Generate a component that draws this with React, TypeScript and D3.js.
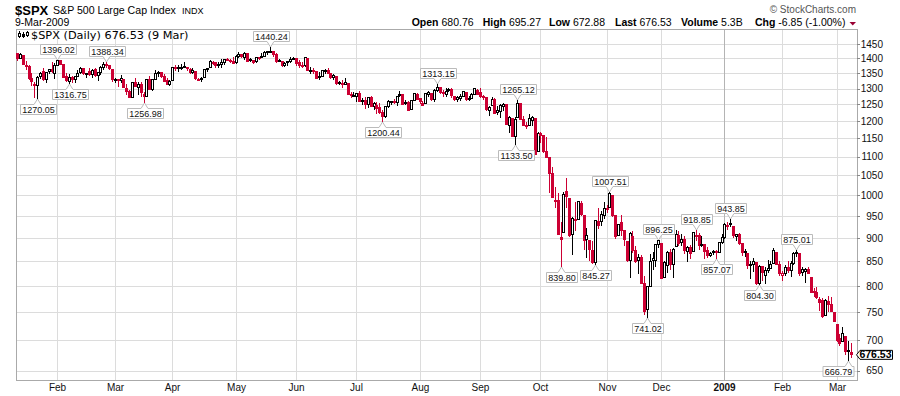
import React from "react";
import * as d3 from "d3";

type Bar = [string, number, number, number, number];

const prevClose = 1420.33;

const jan08: Bar[] = [
  ["2008-01-11", 1419.91, 1419.91, 1394.83, 1401.02],
  ["2008-01-14", 1402.91, 1417.89, 1402.91, 1416.25],
  ["2008-01-15", 1411.88, 1411.88, 1380.6, 1380.95],
  ["2008-01-16", 1377.41, 1391.99, 1364.27, 1373.2],
  ["2008-01-17", 1374.79, 1377.72, 1330.67, 1333.25],
  ["2008-01-18", 1333.9, 1350.28, 1312.51, 1325.19],
  ["2008-01-22", 1312.94, 1322.09, 1274.29, 1310.5],
  ["2008-01-23", 1310.41, 1339.09, 1270.05, 1338.6],
  ["2008-01-24", 1340.13, 1355.15, 1334.31, 1352.07],
  ["2008-01-25", 1357.32, 1368.56, 1327.5, 1330.61],
  ["2008-01-28", 1330.7, 1353.97, 1322.26, 1353.96],
  ["2008-01-29", 1355.94, 1364.93, 1350.19, 1362.3],
  ["2008-01-30", 1362.22, 1385.86, 1352.95, 1355.81],
  ["2008-01-31", 1351.98, 1385.62, 1334.08, 1378.55],
];
const feb08: Bar[] = [
  ["2008-02-01", 1378.6, 1396.02, 1375.93, 1395.42],
  ["2008-02-04", 1395.38, 1395.38, 1379.69, 1380.82],
  ["2008-02-05", 1380.28, 1380.28, 1336.64, 1336.64],
  ["2008-02-06", 1339.48, 1351.96, 1324.34, 1326.45],
  ["2008-02-07", 1324.01, 1347.16, 1316.75, 1336.91],
  ["2008-02-08", 1336.88, 1341.22, 1321.06, 1331.29],
  ["2008-02-11", 1331.92, 1341.4, 1320.32, 1339.13],
  ["2008-02-12", 1340.55, 1362.1, 1339.36, 1348.86],
  ["2008-02-13", 1353.12, 1369.23, 1350.78, 1367.21],
  ["2008-02-14", 1367.33, 1368.16, 1347.31, 1348.86],
  ["2008-02-15", 1347.52, 1350.0, 1338.13, 1349.99],
  ["2008-02-19", 1355.86, 1367.28, 1345.05, 1348.78],
  ["2008-02-20", 1348.39, 1363.71, 1336.55, 1360.03],
  ["2008-02-21", 1362.21, 1367.94, 1339.34, 1342.53],
  ["2008-02-22", 1344.22, 1354.3, 1327.04, 1353.11],
  ["2008-02-25", 1352.75, 1374.36, 1346.03, 1371.8],
  ["2008-02-26", 1371.76, 1387.34, 1363.29, 1381.29],
  ["2008-02-27", 1378.95, 1388.34, 1372.0, 1380.02],
  ["2008-02-28", 1378.16, 1378.16, 1363.16, 1367.68],
  ["2008-02-29", 1364.07, 1364.07, 1325.42, 1330.63],
];
const mar08: Bar[] = [
  ["2008-03-03", 1330.45, 1335.13, 1320.04, 1331.34],
  ["2008-03-04", 1329.58, 1331.03, 1307.39, 1326.75],
  ["2008-03-05", 1327.69, 1344.19, 1320.22, 1333.7],
  ["2008-03-06", 1332.2, 1332.2, 1303.42, 1304.34],
  ["2008-03-07", 1301.53, 1313.24, 1282.43, 1293.37],
  ["2008-03-10", 1293.16, 1295.01, 1272.66, 1273.37],
  ["2008-03-11", 1274.4, 1320.65, 1274.4, 1320.65],
  ["2008-03-12", 1321.13, 1333.26, 1307.86, 1308.77],
  ["2008-03-13", 1305.26, 1321.68, 1282.11, 1315.48],
  ["2008-03-14", 1316.05, 1321.47, 1274.86, 1288.14],
  ["2008-03-17", 1283.21, 1287.5, 1256.98, 1276.6],
  ["2008-03-18", 1277.16, 1330.74, 1277.16, 1330.74],
  ["2008-03-19", 1330.97, 1341.51, 1298.42, 1298.42],
  ["2008-03-20", 1299.67, 1330.67, 1295.22, 1329.51],
  ["2008-03-24", 1330.29, 1359.68, 1330.29, 1349.88],
  ["2008-03-25", 1349.07, 1357.47, 1341.21, 1352.99],
  ["2008-03-26", 1352.45, 1352.45, 1336.41, 1341.13],
  ["2008-03-27", 1340.34, 1345.62, 1325.66, 1325.76],
  ["2008-03-28", 1327.02, 1334.87, 1312.95, 1315.22],
  ["2008-03-31", 1315.92, 1328.52, 1312.81, 1322.7],
];
const apr08: Bar[] = [
  ["2008-04-01", 1326.41, 1370.18, 1326.41, 1370.18],
  ["2008-04-02", 1369.96, 1377.95, 1361.55, 1367.53],
  ["2008-04-03", 1365.69, 1375.66, 1358.68, 1369.31],
  ["2008-04-04", 1369.85, 1380.91, 1362.83, 1370.4],
  ["2008-04-07", 1373.69, 1386.74, 1369.02, 1372.54],
  ["2008-04-08", 1370.16, 1370.16, 1360.62, 1365.54],
  ["2008-04-09", 1365.5, 1368.39, 1349.97, 1354.49],
  ["2008-04-10", 1355.37, 1367.24, 1350.11, 1360.55],
  ["2008-04-11", 1357.98, 1357.98, 1331.21, 1332.83],
  ["2008-04-14", 1332.2, 1335.64, 1326.16, 1328.32],
  ["2008-04-15", 1331.72, 1337.72, 1324.35, 1334.43],
  ["2008-04-16", 1337.02, 1365.49, 1337.02, 1364.71],
  ["2008-04-17", 1363.37, 1368.6, 1357.25, 1365.56],
  ["2008-04-18", 1369.0, 1395.9, 1369.0, 1390.33],
  ["2008-04-21", 1387.72, 1390.23, 1379.25, 1388.17],
  ["2008-04-22", 1386.43, 1386.43, 1369.84, 1375.94],
  ["2008-04-23", 1378.4, 1387.87, 1372.24, 1379.93],
  ["2008-04-24", 1380.52, 1397.72, 1371.09, 1388.82],
  ["2008-04-25", 1387.88, 1399.11, 1379.98, 1397.84],
  ["2008-04-28", 1397.96, 1402.9, 1394.4, 1396.37],
  ["2008-04-29", 1395.61, 1397.0, 1386.7, 1390.94],
  ["2008-04-30", 1391.22, 1404.57, 1384.25, 1385.59],
];
const may08: Bar[] = [
  ["2008-05-01", 1385.97, 1410.07, 1383.07, 1409.34],
  ["2008-05-02", 1409.16, 1422.72, 1406.25, 1413.9],
  ["2008-05-05", 1415.34, 1415.34, 1404.37, 1407.49],
  ["2008-05-06", 1405.6, 1421.57, 1397.1, 1418.26],
  ["2008-05-07", 1417.49, 1419.54, 1391.16, 1392.57],
  ["2008-05-08", 1394.29, 1402.35, 1389.39, 1397.68],
  ["2008-05-09", 1394.9, 1394.9, 1384.11, 1388.28],
  ["2008-05-12", 1389.4, 1404.06, 1386.2, 1403.58],
  ["2008-05-13", 1404.4, 1406.3, 1396.26, 1403.04],
  ["2008-05-14", 1405.65, 1420.19, 1405.65, 1408.66],
  ["2008-05-15", 1408.36, 1424.4, 1406.87, 1423.57],
  ["2008-05-16", 1423.89, 1425.82, 1414.35, 1425.35],
  ["2008-05-19", 1425.28, 1440.24, 1421.63, 1426.63],
  ["2008-05-20", 1424.49, 1424.49, 1409.09, 1413.4],
  ["2008-05-21", 1414.06, 1419.12, 1388.81, 1390.71],
  ["2008-05-22", 1390.83, 1399.07, 1390.23, 1394.35],
  ["2008-05-23", 1392.2, 1392.2, 1373.72, 1375.93],
  ["2008-05-27", 1375.97, 1387.4, 1373.07, 1385.35],
  ["2008-05-28", 1386.54, 1391.25, 1378.16, 1390.84],
  ["2008-05-29", 1390.5, 1406.32, 1388.59, 1398.26],
  ["2008-05-30", 1398.36, 1404.46, 1398.08, 1400.38],
];
const jun08: Bar[] = [
  ["2008-06-02", 1399.62, 1399.62, 1377.79, 1385.67],
  ["2008-06-03", 1386.42, 1393.12, 1370.12, 1377.65],
  ["2008-06-04", 1376.26, 1388.18, 1371.74, 1377.2],
  ["2008-06-05", 1377.48, 1404.05, 1373.07, 1404.05],
  ["2008-06-06", 1400.06, 1400.06, 1359.9, 1360.68],
  ["2008-06-09", 1360.83, 1370.63, 1350.62, 1361.76],
  ["2008-06-10", 1358.98, 1366.84, 1351.56, 1358.44],
  ["2008-06-11", 1357.09, 1357.09, 1335.47, 1335.49],
  ["2008-06-12", 1335.78, 1353.03, 1331.29, 1339.87],
  ["2008-06-13", 1341.81, 1360.03, 1341.71, 1360.03],
  ["2008-06-16", 1358.85, 1364.7, 1352.07, 1360.14],
  ["2008-06-17", 1360.71, 1366.59, 1350.54, 1350.93],
  ["2008-06-18", 1349.59, 1349.59, 1333.4, 1337.81],
  ["2008-06-19", 1336.89, 1347.66, 1330.39, 1342.83],
  ["2008-06-20", 1341.02, 1341.02, 1314.46, 1317.93],
  ["2008-06-23", 1319.77, 1323.78, 1315.31, 1318.0],
  ["2008-06-24", 1317.23, 1326.02, 1304.42, 1314.29],
  ["2008-06-25", 1314.54, 1335.63, 1314.54, 1321.97],
  ["2008-06-26", 1316.29, 1316.29, 1283.15, 1283.15],
  ["2008-06-27", 1283.6, 1289.45, 1272.0, 1278.38],
  ["2008-06-30", 1278.06, 1290.31, 1274.86, 1280.0],
];
const jul08: Bar[] = [
  ["2008-07-01", 1276.69, 1285.31, 1260.68, 1284.91],
  ["2008-07-02", 1285.82, 1292.17, 1261.51, 1261.52],
  ["2008-07-03", 1262.96, 1271.34, 1252.01, 1262.9],
  ["2008-07-07", 1262.9, 1273.95, 1240.68, 1252.31],
  ["2008-07-08", 1251.84, 1274.17, 1242.84, 1273.7],
  ["2008-07-09", 1273.38, 1277.36, 1244.57, 1244.69],
  ["2008-07-10", 1245.25, 1257.65, 1236.76, 1253.39],
  ["2008-07-11", 1248.66, 1257.27, 1225.35, 1239.49],
  ["2008-07-14", 1241.61, 1253.5, 1225.01, 1228.3],
  ["2008-07-15", 1226.83, 1234.35, 1200.44, 1214.91],
  ["2008-07-16", 1214.65, 1245.52, 1211.39, 1245.36],
  ["2008-07-17", 1246.31, 1262.31, 1241.49, 1260.32],
  ["2008-07-18", 1258.22, 1262.23, 1251.81, 1260.68],
  ["2008-07-21", 1261.82, 1267.74, 1255.7, 1260.0],
  ["2008-07-22", 1257.08, 1277.42, 1248.83, 1277.0],
  ["2008-07-23", 1278.87, 1291.17, 1276.06, 1282.19],
  ["2008-07-24", 1283.22, 1283.22, 1251.48, 1252.54],
  ["2008-07-25", 1253.51, 1263.23, 1251.75, 1257.76],
  ["2008-07-28", 1257.76, 1260.09, 1234.37, 1234.37],
  ["2008-07-29", 1236.38, 1263.2, 1236.38, 1263.2],
  ["2008-07-30", 1264.52, 1284.33, 1264.52, 1284.26],
  ["2008-07-31", 1281.37, 1284.93, 1265.97, 1267.38],
];
const aug08: Bar[] = [
  ["2008-08-01", 1269.42, 1270.52, 1254.54, 1260.31],
  ["2008-08-04", 1253.27, 1260.49, 1247.45, 1249.01],
  ["2008-08-05", 1254.87, 1284.88, 1254.67, 1284.88],
  ["2008-08-06", 1283.99, 1291.67, 1276.0, 1289.19],
  ["2008-08-07", 1286.51, 1286.51, 1264.29, 1266.07],
  ["2008-08-08", 1266.29, 1297.85, 1262.11, 1296.32],
  ["2008-08-11", 1294.42, 1313.15, 1291.41, 1305.32],
  ["2008-08-12", 1304.79, 1304.79, 1285.64, 1289.59],
  ["2008-08-13", 1288.64, 1294.03, 1274.86, 1285.83],
  ["2008-08-14", 1282.11, 1300.11, 1276.84, 1292.93],
  ["2008-08-15", 1293.85, 1302.05, 1290.74, 1298.2],
  ["2008-08-18", 1298.14, 1300.22, 1274.51, 1278.6],
  ["2008-08-19", 1276.65, 1276.65, 1263.11, 1266.69],
  ["2008-08-20", 1267.34, 1276.01, 1261.16, 1274.54],
  ["2008-08-21", 1271.07, 1281.4, 1265.22, 1277.72],
  ["2008-08-22", 1277.59, 1293.09, 1277.59, 1292.2],
  ["2008-08-25", 1290.47, 1290.47, 1264.87, 1266.84],
  ["2008-08-26", 1267.03, 1275.65, 1263.21, 1271.51],
  ["2008-08-27", 1271.29, 1285.05, 1270.03, 1281.66],
  ["2008-08-28", 1283.79, 1300.68, 1283.79, 1300.68],
  ["2008-08-29", 1296.49, 1297.59, 1282.74, 1282.83],
];
const sep08: Bar[] = [
  ["2008-09-02", 1287.83, 1303.04, 1272.2, 1277.58],
  ["2008-09-03", 1276.61, 1280.6, 1265.59, 1274.98],
  ["2008-09-04", 1271.8, 1271.8, 1232.83, 1236.83],
  ["2008-09-05", 1233.21, 1244.94, 1217.23, 1242.31],
  ["2008-09-08", 1249.5, 1274.42, 1247.12, 1267.79],
  ["2008-09-09", 1267.98, 1268.66, 1224.51, 1224.51],
  ["2008-09-10", 1227.5, 1243.9, 1221.6, 1232.04],
  ["2008-09-11", 1229.04, 1249.98, 1211.54, 1249.05],
  ["2008-09-12", 1245.88, 1255.09, 1233.81, 1251.7],
  ["2008-09-15", 1250.92, 1250.92, 1192.7, 1192.7],
  ["2008-09-16", 1188.31, 1214.84, 1169.28, 1213.6],
  ["2008-09-17", 1210.34, 1210.34, 1155.88, 1156.39],
  ["2008-09-18", 1157.08, 1211.14, 1133.5, 1206.51],
  ["2008-09-19", 1213.11, 1265.12, 1213.11, 1255.08],
  ["2008-09-22", 1255.37, 1255.37, 1205.61, 1207.09],
  ["2008-09-23", 1207.61, 1214.46, 1188.01, 1188.22],
  ["2008-09-24", 1188.79, 1197.41, 1179.79, 1185.87],
  ["2008-09-25", 1187.87, 1220.03, 1187.87, 1209.18],
  ["2008-09-26", 1204.47, 1215.77, 1187.54, 1213.27],
  ["2008-09-29", 1209.07, 1209.07, 1106.42, 1106.39],
  ["2008-09-30", 1113.78, 1168.03, 1113.78, 1166.36],
];
const oct08: Bar[] = [
  ["2008-10-01", 1164.17, 1167.03, 1140.77, 1161.06],
  ["2008-10-02", 1160.64, 1160.64, 1111.43, 1114.28],
  ["2008-10-03", 1115.16, 1153.82, 1098.14, 1099.23],
  ["2008-10-06", 1097.56, 1097.56, 1007.97, 1056.89],
  ["2008-10-07", 1057.6, 1072.91, 996.23, 996.23],
  ["2008-10-08", 988.91, 1021.06, 970.97, 984.94],
  ["2008-10-09", 988.42, 1005.25, 909.19, 909.92],
  ["2008-10-10", 902.31, 936.36, 839.8, 899.22],
  ["2008-10-13", 912.75, 1006.93, 912.75, 1003.35],
  ["2008-10-14", 1009.97, 1044.31, 972.07, 998.01],
  ["2008-10-15", 994.6, 994.6, 903.99, 907.84],
  ["2008-10-16", 909.53, 947.71, 865.83, 946.43],
  ["2008-10-17", 942.29, 984.64, 918.74, 940.55],
  ["2008-10-20", 943.51, 985.4, 943.51, 985.4],
  ["2008-10-21", 980.4, 985.44, 952.47, 955.05],
  ["2008-10-22", 951.67, 951.67, 875.81, 896.78],
  ["2008-10-23", 899.08, 922.83, 858.44, 908.11],
  ["2008-10-24", 895.22, 896.3, 852.85, 876.77],
  ["2008-10-27", 874.28, 893.78, 846.75, 848.92],
  ["2008-10-28", 848.92, 940.51, 845.27, 940.51],
  ["2008-10-29", 939.51, 969.97, 922.26, 930.09],
  ["2008-10-30", 939.38, 963.23, 928.5, 954.09],
  ["2008-10-31", 953.11, 984.38, 944.59, 968.75],
];
const nov08: Bar[] = [
  ["2008-11-03", 968.67, 975.57, 958.82, 966.3],
  ["2008-11-04", 971.31, 1007.51, 971.31, 1005.75],
  ["2008-11-05", 1001.84, 1001.84, 949.86, 952.77],
  ["2008-11-06", 952.4, 952.4, 899.73, 904.88],
  ["2008-11-07", 907.44, 931.46, 906.9, 930.99],
  ["2008-11-10", 936.75, 951.95, 907.47, 919.21],
  ["2008-11-11", 917.15, 917.15, 884.9, 898.95],
  ["2008-11-12", 893.39, 893.39, 850.48, 852.3],
  ["2008-11-13", 853.13, 913.01, 818.69, 911.29],
  ["2008-11-14", 904.36, 916.88, 869.88, 873.29],
  ["2008-11-17", 873.23, 882.29, 848.98, 850.75],
  ["2008-11-18", 852.34, 865.9, 826.84, 859.12],
  ["2008-11-19", 859.03, 864.57, 806.18, 806.58],
  ["2008-11-20", 805.87, 820.52, 747.78, 752.44],
  ["2008-11-21", 755.84, 801.2, 741.02, 800.03],
  ["2008-11-24", 801.2, 865.6, 801.2, 851.81],
  ["2008-11-25", 853.4, 868.94, 834.99, 857.39],
  ["2008-11-26", 852.9, 887.68, 841.37, 887.68],
  ["2008-11-28", 886.89, 896.25, 881.21, 896.24],
];
const dec08: Bar[] = [
  ["2008-12-01", 888.61, 888.61, 815.69, 816.21],
  ["2008-12-02", 817.94, 850.54, 817.94, 848.81],
  ["2008-12-03", 843.6, 873.12, 827.6, 870.74],
  ["2008-12-04", 869.75, 875.6, 833.6, 845.22],
  ["2008-12-05", 844.43, 879.42, 818.41, 876.07],
  ["2008-12-08", 882.71, 918.57, 882.71, 909.7],
  ["2008-12-09", 906.48, 916.26, 885.38, 888.67],
  ["2008-12-10", 892.17, 908.27, 885.45, 899.24],
  ["2008-12-11", 898.35, 904.63, 868.73, 873.59],
  ["2008-12-12", 871.79, 883.24, 851.35, 879.73],
  ["2008-12-15", 881.07, 884.63, 857.72, 868.57],
  ["2008-12-16", 871.53, 914.66, 871.53, 913.18],
  ["2008-12-17", 908.16, 918.85, 895.94, 904.42],
  ["2008-12-18", 905.98, 911.02, 877.44, 885.28],
  ["2008-12-19", 886.96, 905.47, 883.02, 887.88],
  ["2008-12-22", 887.2, 887.37, 857.09, 871.63],
  ["2008-12-23", 874.31, 880.44, 860.1, 863.16],
  ["2008-12-24", 863.87, 869.79, 861.44, 868.15],
  ["2008-12-26", 869.51, 873.74, 866.52, 872.8],
  ["2008-12-29", 872.37, 873.7, 857.07, 869.42],
  ["2008-12-30", 870.58, 891.12, 870.58, 890.64],
  ["2008-12-31", 890.59, 910.32, 889.67, 903.25],
];
const jan09: Bar[] = [
  ["2009-01-02", 902.99, 934.73, 899.35, 931.8],
  ["2009-01-05", 929.17, 936.63, 919.53, 927.45],
  ["2009-01-06", 931.17, 943.85, 927.28, 934.7],
  ["2009-01-07", 927.45, 927.45, 902.37, 906.65],
  ["2009-01-08", 905.73, 910.0, 896.81, 909.73],
  ["2009-01-09", 909.91, 911.93, 888.31, 890.35],
  ["2009-01-12", 890.4, 890.4, 864.32, 870.26],
  ["2009-01-13", 869.79, 877.02, 862.02, 871.79],
  ["2009-01-14", 867.28, 867.28, 836.93, 842.62],
  ["2009-01-15", 841.99, 851.59, 817.04, 843.74],
  ["2009-01-16", 844.45, 858.13, 830.66, 850.12],
  ["2009-01-20", 849.64, 849.64, 804.47, 805.22],
  ["2009-01-21", 806.77, 841.72, 804.3, 840.24],
  ["2009-01-22", 839.74, 839.74, 811.29, 827.5],
  ["2009-01-23", 822.16, 838.61, 806.07, 831.95],
  ["2009-01-26", 832.5, 852.53, 827.69, 836.57],
  ["2009-01-27", 837.3, 850.45, 835.4, 845.71],
  ["2009-01-28", 845.73, 877.86, 845.73, 874.09],
  ["2009-01-29", 868.89, 868.89, 844.15, 845.14],
  ["2009-01-30", 845.69, 851.66, 821.67, 825.88],
];
const feb09: Bar[] = [
  ["2009-02-02", 823.09, 830.78, 812.87, 825.44],
  ["2009-02-03", 825.69, 842.6, 821.98, 838.51],
  ["2009-02-04", 837.77, 851.85, 829.18, 832.23],
  ["2009-02-05", 831.75, 850.55, 819.91, 845.85],
  ["2009-02-06", 846.09, 870.75, 845.42, 868.6],
  ["2009-02-09", 868.24, 875.01, 861.65, 869.89],
  ["2009-02-10", 866.87, 868.05, 822.99, 827.16],
  ["2009-02-11", 827.41, 838.22, 822.3, 833.74],
  ["2009-02-12", 829.91, 835.48, 808.06, 835.19],
  ["2009-02-13", 833.95, 839.43, 825.21, 826.84],
  ["2009-02-17", 818.61, 818.61, 789.17, 789.17],
  ["2009-02-18", 791.06, 796.17, 780.43, 788.42],
  ["2009-02-19", 787.91, 797.58, 777.03, 778.94],
  ["2009-02-20", 775.87, 778.69, 754.25, 770.05],
  ["2009-02-23", 773.25, 777.85, 742.37, 743.33],
  ["2009-02-24", 744.69, 775.49, 744.69, 773.14],
  ["2009-02-25", 770.64, 780.12, 752.89, 764.9],
  ["2009-02-26", 765.76, 779.42, 751.75, 752.83],
  ["2009-02-27", 749.93, 751.27, 734.52, 735.09],
];
const mar09: Bar[] = [
  ["2009-03-02", 729.57, 729.57, 699.7, 700.82],
  ["2009-03-03", 704.44, 711.67, 692.3, 696.33],
  ["2009-03-04", 698.6, 724.12, 698.6, 712.87],
  ["2009-03-05", 708.27, 708.27, 677.93, 682.55],
  ["2009-03-06", 684.04, 699.09, 666.79, 683.38],
  ["2009-03-09", 680.76, 695.27, 672.88, 676.53],
];

const bars: Bar[] = [
  ...jan08, ...feb08, ...mar08, ...apr08, ...may08, ...jun08, ...jul08,
  ...aug08, ...sep08, ...oct08, ...nov08, ...dec08, ...jan09, ...feb09, ...mar09,
];

const yTicks = [650, 700, 750, 800, 850, 900, 950, 1000, 1050, 1100, 1150, 1200, 1250, 1300, 1350, 1400, 1450];
const monthLabels = ["2009", "Feb", "Mar", "Apr", "May", "Jun", "Jul", "Aug", "Sep", "Oct", "Nov", "Dec"];

const annotations: [string, number, "hi" | "lo"][] = [
  ["2008-01-23", 1270.05, "lo"],
  ["2008-02-01", 1396.02, "hi"],
  ["2008-02-07", 1316.75, "lo"],
  ["2008-02-27", 1388.34, "hi"],
  ["2008-03-17", 1256.98, "lo"],
  ["2008-05-19", 1440.24, "hi"],
  ["2008-07-15", 1200.44, "lo"],
  ["2008-08-11", 1313.15, "hi"],
  ["2008-09-18", 1133.5, "lo"],
  ["2008-09-19", 1265.12, "hi"],
  ["2008-10-10", 839.8, "lo"],
  ["2008-10-28", 845.27, "lo"],
  ["2008-11-04", 1007.51, "hi"],
  ["2008-11-21", 741.02, "lo"],
  ["2008-11-28", 896.25, "hi"],
  ["2008-12-17", 918.85, "hi"],
  ["2008-12-29", 857.07, "lo"],
  ["2009-01-06", 943.85, "hi"],
  ["2009-01-21", 804.3, "lo"],
  ["2009-02-09", 875.01, "hi"],
  ["2009-03-06", 666.79, "lo"],
];

const headerSymbol = "$SPX";
const headerName = "S&P 500 Large Cap Index";
const headerExchange = "INDX";
const headerDate = "9-Mar-2009";
const headerFields: [string, string, number][] = [
  ["Open", "680.76", 411.7],
  ["High", "695.27", 482.7],
  ["Low", "672.88", 549],
  ["Last", "676.53", 615],
  ["Volume", "5.3B", 681],
  ["Chg", "-6.85 (-1.00%)", 755],
];
const legendText = "$SPX (Daily) 676.53 (9 Mar)";
const lastValue = 676.53;

const L = 16, R = 857, T = 29, B = 380;
const RED = "#cc0033";
const FONT = "'Liberation Sans', Arial, sans-serif";

function textW(s: string, size: number) {
  let w = 0;
  for (const ch of s) w += ch === "." ? 0.278 : 0.556;
  return w * size;
}

export default function App() {
  const x = d3.scaleLinear().domain([0, bars.length - 1]).range([17, 851]);
  const y = d3.scaleLog().domain([635.2, 1504.7]).range([B, T]);
  const idxOf = new Map(bars.map((b, i) => [b[0], i]));

  const monthTicks: { i: number; label: string; bold: boolean }[] = [];
  bars.forEach((b, i) => {
    if (i === 0) return;
    const m = +b[0].slice(5, 7);
    const pm = +bars[i - 1][0].slice(5, 7);
    if (m !== pm) monthTicks.push({ i, label: monthLabels[m - 1], bold: m === 1 });
  });

  const candles = bars.map((b, i) => {
    const [, o, h, l, c] = b;
    const pc = i === 0 ? prevClose : bars[i - 1][4];
    const color = c >= pc ? "#000" : RED;
    const filled = c < o;
    const px = Math.round(x(i));
    const yT = Math.round(y(Math.max(o, c)));
    const yB = Math.round(y(Math.min(o, c)));
    const hgt = Math.max(yB - yT, 1);
    return (
      <g key={i}>
        <line x1={px + 0.5} x2={px + 0.5} y1={Math.round(y(h))} y2={Math.round(y(l)) + 1} stroke={color} strokeWidth={1} />
        {filled ? (
          <rect x={px - 1} y={yT} width={3} height={hgt + 1} fill={color} />
        ) : (
          <rect x={px - 0.5} y={yT + 0.5} width={2} height={Math.max(hgt, 1)} fill="#fff" stroke={color} strokeWidth={1} />
        )}
      </g>
    );
  });

  const notes = annotations.map(([d, v, side], k) => {
    const i = idxOf.get(d)!;
    const tx = Math.round(x(i)) + 0.5;
    const ty = y(v);
    const label = v.toFixed(2);
    const fs = 9;
    const bw = Math.round(textW(label, fs) + 3);
    const bh = 10;
    let bx = Math.round(tx - bw / 2);
    bx = Math.max(L + 2, Math.min(R - 3.5 - bw, bx)) + 0.5;
    const tail = 6;
    let path: string;
    let by: number;
    if (side === "hi") {
      const bot = Math.round(ty - tail) + 0.5;
      by = bot - bh;
      path = `M${bx},${by}H${bx + bw}V${bot}H${tx + 3.5}L${tx},${bot + tail - 0.5}L${tx - 3.5},${bot}H${bx}Z`;
    } else {
      const top = Math.round(ty + tail) + 0.5;
      by = top;
      path = `M${bx},${top}H${tx - 3.5}L${tx},${top - tail + 0.5}L${tx + 3.5},${top}H${bx + bw}V${top + bh}H${bx}Z`;
    }
    return (
      <g key={k}>
        <path d={path} fill="#fff" stroke="#bbb" strokeWidth={1} />
        <text x={bx + bw / 2} y={by + 8.2} textAnchor="middle" fontSize={fs} fontFamily={FONT} fill="#111">
          {label}
        </text>
      </g>
    );
  });

  const ly = y(lastValue);

  return (
    <svg width={900} height={396} style={{ position: "absolute", left: 0, top: 0, background: "#fff" }}>
      <defs>
        <clipPath id="plot">
          <rect x={L} y={T} width={R - L} height={B - T} />
        </clipPath>
      </defs>
      <rect x={0} y={0} width={900} height={396} fill="#fff" />
      {/* header */}
      <text x={15} y={14.5} fontFamily={FONT} fontWeight="bold" fontSize={13} fill="#000">{headerSymbol}</text>
      <text x={53} y={14} fontFamily={FONT} fontSize={10.6} fill="#000">{headerName}</text>
      <text x={182} y={14} fontFamily={FONT} fontSize={9} fill="#000">{headerExchange}</text>
      <text x={15} y={26.3} fontFamily={FONT} fontSize={10.5} fill="#000">{headerDate}</text>
      <text x={856} y={12.5} textAnchor="end" fontFamily={FONT} fontSize={10} fill="#555">© StockCharts.com</text>
      {headerFields.map(([k, v, hx], j) => (
        <text key={j} x={hx} y={26.3} fontFamily={FONT} fontSize={10.5} fill="#000">
          <tspan fontWeight="bold">{k}</tspan>
          <tspan> {v}</tspan>
        </text>
      ))}
      <path d="M849.5,22 L856,22 L852.75,25.5 Z" fill="#990033" />

      {/* grid */}
      {yTicks.map((t) => (
        <line key={"h" + t} x1={L} x2={R} y1={Math.round(y(t)) + 0.5} y2={Math.round(y(t)) + 0.5} stroke="#dcdcdc" />
      ))}
      {monthTicks.map((m) => (
        <line key={"v" + m.i} x1={Math.round(x(m.i)) + 0.5} x2={Math.round(x(m.i)) + 0.5} y1={T} y2={B} stroke={m.bold ? "#b4b4b4" : "#dcdcdc"} />
      ))}

      {/* frame */}
      <rect x={L + 0.5} y={T + 0.5} width={R - L} height={B - T} fill="none" stroke="#aaa" />

      {/* legend */}
      <g stroke="#000" strokeWidth={1}>
        <line x1={19.5} x2={19.5} y1={31} y2={38} />
        <rect x={18.5} y={33.5} width={2} height={3} fill="#fff" />
        <line x1={23.5} x2={23.5} y1={32} y2={38} />
        <rect x={22.5} y={34.5} width={2} height={2} fill="#000" />
        <line x1={27.5} x2={27.5} y1={31} y2={37} />
        <rect x={26.5} y={32.5} width={2} height={3} fill="#fff" />
      </g>
      <text x={31} y={38.8} fontFamily="'DejaVu Sans', Verdana, sans-serif" fontSize={11.3} fill="#000">{legendText}</text>

      <g clipPath="url(#plot)">{candles}</g>
      {notes}

      {/* right axis */}
      {yTicks.map((t) => (
        <g key={"t" + t}>
          <line x1={R} x2={R + 3} y1={Math.round(y(t)) + 0.5} y2={Math.round(y(t)) + 0.5} stroke="#888" />
          <text x={883} y={y(t) + 3.6} textAnchor="end" fontFamily={FONT} fontSize={10} fill="#111">{t}</text>
        </g>
      ))}

      {/* last value tag */}
      <path
        d={`M${R - 0.5},${ly + 0.5} L${R + 3},${ly - 4} H892.5 V${ly + 5} H${R + 3} Z`}
        fill="#fff"
        stroke="#000"
      />
      <text x={875.5} y={ly + 4} textAnchor="middle" fontFamily={FONT} fontWeight="bold" fontSize={10.5} fill="#000">
        {lastValue.toFixed(2)}
      </text>

      {/* x axis labels */}
      {monthTicks.map((m) => (
        <text key={"xl" + m.i} x={Math.round(x(m.i)) + 0.5} y={391} textAnchor="middle" fontFamily={FONT} fontSize={10} fontWeight={m.bold ? "bold" : "normal"} fill="#111">
          {m.label}
        </text>
      ))}
    </svg>
  );
}
